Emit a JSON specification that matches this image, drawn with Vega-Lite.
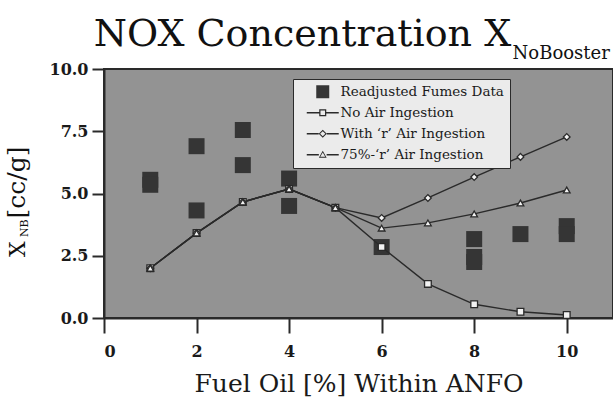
{
  "$schema": "https://vega.github.io/schema/vega-lite/v6.json",
  "width": 509,
  "height": 249,
  "autosize": {"type": "none"},
  "padding": {"left": 104, "top": 69, "right": 0, "bottom": 82},
  "background": "white",
  "config": {
    "view": {"fill": "#939393", "stroke": "#2a2a2a", "strokeWidth": 2},
    "font": "DejaVu Serif"
  },
  "data": {
    "values": [
      {"series": "fumes", "x": 1, "y": 5.55},
      {"series": "fumes", "x": 1, "y": 5.35},
      {"series": "fumes", "x": 2, "y": 6.9},
      {"series": "fumes", "x": 2, "y": 4.32},
      {"series": "fumes", "x": 3, "y": 7.55},
      {"series": "fumes", "x": 3, "y": 6.14},
      {"series": "fumes", "x": 4, "y": 5.6},
      {"series": "fumes", "x": 4, "y": 4.5},
      {"series": "fumes", "x": 6, "y": 2.85},
      {"series": "fumes", "x": 8, "y": 3.17},
      {"series": "fumes", "x": 8, "y": 2.45},
      {"series": "fumes", "x": 8, "y": 2.25},
      {"series": "fumes", "x": 9, "y": 3.37},
      {"series": "fumes", "x": 10, "y": 3.69},
      {"series": "fumes", "x": 10, "y": 3.37},
      {"series": "noair", "x": 1, "y": 2.0},
      {"series": "noair", "x": 2, "y": 3.41},
      {"series": "noair", "x": 3, "y": 4.66},
      {"series": "noair", "x": 4, "y": 5.18},
      {"series": "noair", "x": 5, "y": 4.43},
      {"series": "noair", "x": 6, "y": 2.85},
      {"series": "noair", "x": 7, "y": 1.37},
      {"series": "noair", "x": 8, "y": 0.55},
      {"series": "noair", "x": 9, "y": 0.25},
      {"series": "noair", "x": 10, "y": 0.12},
      {"series": "withr", "x": 1, "y": 2.0},
      {"series": "withr", "x": 2, "y": 3.41},
      {"series": "withr", "x": 3, "y": 4.66},
      {"series": "withr", "x": 4, "y": 5.18},
      {"series": "withr", "x": 5, "y": 4.43},
      {"series": "withr", "x": 6, "y": 4.02},
      {"series": "withr", "x": 7, "y": 4.82},
      {"series": "withr", "x": 8, "y": 5.66},
      {"series": "withr", "x": 9, "y": 6.47},
      {"series": "withr", "x": 10, "y": 7.27},
      {"series": "r75", "x": 1, "y": 2.0},
      {"series": "r75", "x": 2, "y": 3.41},
      {"series": "r75", "x": 3, "y": 4.66},
      {"series": "r75", "x": 4, "y": 5.18},
      {"series": "r75", "x": 5, "y": 4.43},
      {"series": "r75", "x": 6, "y": 3.61},
      {"series": "r75", "x": 7, "y": 3.82},
      {"series": "r75", "x": 8, "y": 4.18},
      {"series": "r75", "x": 9, "y": 4.62},
      {"series": "r75", "x": 10, "y": 5.14}
    ]
  },
  "layer": [
    {
      "transform": [{"filter": "datum.series == 'fumes'"}],
      "mark": {"type": "point", "filled": true, "opacity": 1, "size": 256},
      "encoding": {
        "x": {
          "field": "x", "type": "quantitative",
          "scale": {"domain": [0, 11], "nice": false, "zero": false},
          "axis": {
            "values": [0, 2, 4, 6, 8, 10], "grid": false,
            "title": "Fuel Oil [%] Within ANFO",
            "tickSize": 15, "tickWidth": 2, "tickColor": "#2a2a2a",
            "domainColor": "#2a2a2a", "domainWidth": 2,
            "labelFont": "DejaVu Serif", "labelFontWeight": "bold", "labelFontSize": 16, "labelColor": "#1a1a1a", "labelPadding": 10,
            "titleFont": "DejaVu Serif", "titleFontWeight": "normal", "titleFontSize": 25, "titleColor": "#1a1a1a", "titlePadding": 12
          }
        },
        "y": {
          "field": "y", "type": "quantitative",
          "scale": {"domain": [0, 10], "nice": false, "zero": false},
          "axis": {
            "values": [0, 2.5, 5, 7.5, 10], "format": ".1f", "grid": false, "title": null,
            "tickSize": 12, "tickWidth": 2, "tickColor": "#2a2a2a",
            "domainColor": "#2a2a2a", "domainWidth": 2,
            "labelFont": "DejaVu Serif", "labelFontWeight": "bold", "labelFontSize": 16, "labelColor": "#1a1a1a", "labelPadding": 4
          }
        },
        "color": {
          "field": "series", "type": "nominal",
          "scale": {
            "domain": ["fumes", "noair", "withr", "r75"],
            "range": ["#353535", "#2a2a2a", "#2a2a2a", "#2a2a2a"]
          },
          "legend": {
            "orient": "none", "legendX": 189, "legendY": 10, "title": null,
            "fillColor": "#ebebeb", "strokeColor": "#2a2a2a", "padding": 6,
            "labelFont": "DejaVu Serif", "labelFontSize": 13.5, "labelColor": "#1a1a1a", "labelOffset": 11, "labelLimit": 300,
            "labelExpr": "datum.value == 'fumes' ? 'Readjusted Fumes Data' : datum.value == 'noair' ? 'No Air Ingestion' : datum.value == 'withr' ? 'With \u2018r\u2019 Air Ingestion' : '75%-\u2018r\u2019 Air Ingestion'",
            "symbolSize": 169, "symbolOffset": 17, "symbolStrokeWidth": 0, "rowPadding": 6
          }
        },
        "shape": {
          "field": "series", "type": "nominal",
          "scale": {
            "domain": ["fumes", "noair", "withr", "r75"],
            "range": [
              "M-1,-1H1V1H-1Z",
              "M-2.46,-0.1H-0.54V0.1H-2.46ZM0.54,-0.1H2.46V0.1H0.54ZM-0.54,-0.54H0.54V0.54H-0.54ZM-0.35,-0.35V0.35H0.35V-0.35Z",
              "M-2.46,-0.1H-0.62V0.1H-2.46ZM0.62,-0.1H2.46V0.1H0.62ZM0,-0.62L0.62,0L0,0.62L-0.62,0ZM0,-0.4L-0.4,0L0,0.4L0.4,0Z",
              "M-2.46,-0.1H-0.6V0.1H-2.46ZM0.6,-0.1H2.46V0.1H0.6ZM0,-0.6L0.6,0.45L-0.6,0.45ZM0,-0.36L-0.38,0.3L0.38,0.3Z"
            ]
          }
        }
      }
    },
    {
      "transform": [{"filter": "datum.series != 'fumes'"}],
      "mark": {"type": "line", "strokeWidth": 1.4, "color": "#2a2a2a"},
      "encoding": {
        "x": {"field": "x", "type": "quantitative"},
        "y": {"field": "y", "type": "quantitative"},
        "detail": {"field": "series", "type": "nominal"}
      }
    },
    {
      "transform": [{"filter": "datum.series == 'noair'"}],
      "mark": {"type": "point", "shape": "square", "filled": true, "fill": "#f2f2f2", "stroke": "#2a2a2a", "strokeWidth": 1.3, "opacity": 1, "size": 45},
      "encoding": {
        "x": {"field": "x", "type": "quantitative"},
        "y": {"field": "y", "type": "quantitative"}
      }
    },
    {
      "transform": [{"filter": "datum.series == 'withr'"}],
      "mark": {"type": "point", "shape": "diamond", "filled": true, "fill": "#f2f2f2", "stroke": "#2a2a2a", "strokeWidth": 1.3, "opacity": 1, "size": 45},
      "encoding": {
        "x": {"field": "x", "type": "quantitative"},
        "y": {"field": "y", "type": "quantitative"}
      }
    },
    {
      "transform": [{"filter": "datum.series == 'r75'"}],
      "mark": {"type": "point", "shape": "triangle-up", "filled": true, "fill": "#f2f2f2", "stroke": "#2a2a2a", "strokeWidth": 1.3, "opacity": 1, "size": 45},
      "encoding": {
        "x": {"field": "x", "type": "quantitative"},
        "y": {"field": "y", "type": "quantitative"}
      }
    },
    {
      "data": {"values": [{}]},
      "mark": {"type": "text", "text": "NOX Concentration X", "align": "right", "baseline": "alphabetic", "fontSize": 38, "font": "DejaVu Serif", "color": "#111111"},
      "encoding": {"x": {"datum": 8.8}, "y": {"datum": 10.92}}
    },
    {
      "data": {"values": [{}]},
      "mark": {"type": "text", "text": "NoBooster", "align": "left", "baseline": "alphabetic", "fontSize": 18, "font": "DejaVu Serif", "color": "#111111"},
      "encoding": {"x": {"datum": 8.83}, "y": {"datum": 10.42}}
    },
    {
      "data": {"values": [{}]},
      "mark": {"type": "text", "text": "X", "angle": 270, "align": "left", "baseline": "alphabetic", "fontSize": 22, "font": "DejaVu Serif", "color": "#111111"},
      "encoding": {"x": {"datum": -1.707}, "y": {"datum": 2.45}}
    },
    {
      "data": {"values": [{}]},
      "mark": {"type": "text", "text": "NB", "angle": 270, "align": "left", "baseline": "alphabetic", "fontSize": 11, "font": "DejaVu Serif", "color": "#111111"},
      "encoding": {"x": {"datum": -1.64}, "y": {"datum": 3.25}}
    },
    {
      "data": {"values": [{}]},
      "mark": {"type": "text", "text": "[cc/g]", "angle": 270, "align": "left", "baseline": "alphabetic", "fontSize": 25, "font": "DejaVu Serif", "color": "#111111"},
      "encoding": {"x": {"datum": -1.707}, "y": {"datum": 4.0}}
    }
  ]
}
